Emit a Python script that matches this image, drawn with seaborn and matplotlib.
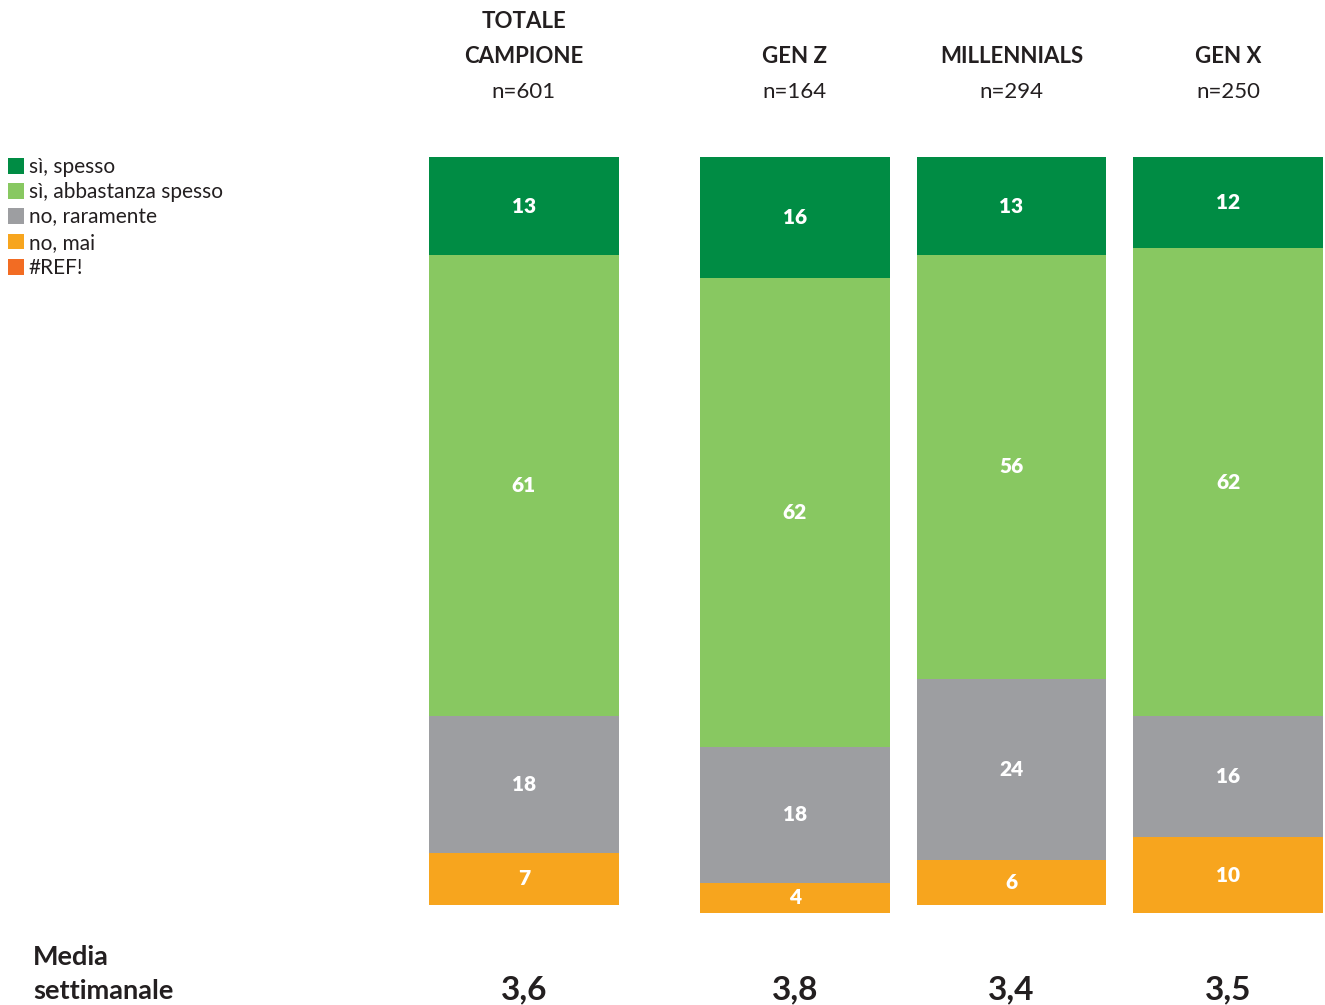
import matplotlib
matplotlib.use("Agg")
import matplotlib.pyplot as plt
from matplotlib.patches import Patch
import numpy as np
import pandas as pd
import seaborn as sns

# ---- data ----
groups = ["TOTALE\nCAMPIONE", "GEN Z", "MILLENNIALS", "GEN X"]
sample_sizes = ["n=601", "n=164", "n=294", "n=250"]
series_names = ["sì, spesso", "sì, abbastanza spesso", "no, raramente", "no, mai", "#REF!"]
si_spesso = [13, 16, 13, 12]
si_abbastanza = [61, 62, 56, 62]
no_raramente = [18, 18, 24, 16]
no_mai = [7, 4, 6, 10]
ref_err = [0, 0, 0, 0]
media_settimanale = ["3,6", "3,8", "3,4", "3,5"]

# ---- layout / style ----
colors = ["#008C44", "#88C861", "#9D9EA1", "#F7A51E", "#F26C23"]
positions = [0.0, 1.25, 2.25, 3.25]
bar_width = 0.876
W, H = 1325, 1005
TXT = "#231F20"

sns.set_theme(style="white")
plt.rcParams["font.family"] = ["Lato", "DejaVu Sans"]

fig = plt.figure(figsize=(W / 100, H / 100), dpi=100)
ax_left, ax_right = 429 / W, 1323 / W
ax_top, ax_bottom = 1 - 157 / H, 1 - 913 / H
ax = fig.add_axes([ax_left, ax_bottom, ax_right - ax_left, ax_top - ax_bottom])

series = [si_spesso, si_abbastanza, no_raramente, no_mai, ref_err]
cum = np.cumsum(np.array(series, dtype=float), axis=0)

# draw cumulative bars, largest first so smaller overlap on top
for i in range(len(series) - 1, -1, -1):
    df = pd.DataFrame({"x": positions, "y": cum[i]})
    sns.barplot(data=df, x="x", y="y", native_scale=True, width=bar_width,
                color=colors[i], saturation=1, errorbar=None, ax=ax,
                linewidth=0)

ax.set_ylim(100, 0)
ax.set_xlim(positions[0] - bar_width / 2, positions[-1] + bar_width / 2)
ax.axis("off")

# segment labels
for i in range(4):
    prev = cum[i - 1] if i > 0 else np.zeros(len(positions))
    for j, p in enumerate(positions):
        v = series[i][j]
        if v > 0:
            ax.text(p, (prev[j] + cum[i][j]) / 2, f"{v}", ha="center", va="center",
                    color="white", fontsize=15, fontweight="heavy")

# headers
def fig_x(p):
    lo = positions[0] - bar_width / 2
    hi = positions[-1] + bar_width / 2
    return ax_left + (p - lo) / (hi - lo) * (ax_right - ax_left)

for j, p in enumerate(positions):
    fx = fig_x(p)
    lines = groups[j].split("\n")
    if len(lines) == 2:
        fig.text(fx, 1 - 22 / H, lines[0], ha="center", va="center", fontsize=16,
                 fontweight="bold", color=TXT)
        fig.text(fx, 1 - 56 / H, lines[1], ha="center", va="center", fontsize=16,
                 fontweight="bold", color=TXT)
    else:
        fig.text(fx, 1 - 56 / H, lines[0], ha="center", va="center", fontsize=16,
                 fontweight="bold", color=TXT)
    fig.text(fx, 1 - 92 / H, sample_sizes[j], ha="center", va="center", fontsize=16,
             color=TXT)
    fig.text(fx, 1 - 990 / H, media_settimanale[j], ha="center", va="center",
             fontsize=24, fontweight="bold", color=TXT)

fig.text(33 / W, 1 - 957 / H, "Media", ha="left", va="center", fontsize=19.5,
         fontweight="bold", color=TXT)
fig.text(33 / W, 1 - 991 / H, "settimanale", ha="left", va="center", fontsize=19.5,
         fontweight="bold", color=TXT)

handles = [Patch(facecolor=c, edgecolor="none") for c in colors]
fig.legend(handles, series_names, loc="upper left", bbox_to_anchor=(4 / W, 1 - 153 / H),
           frameon=False, fontsize=15, handlelength=0.78, handleheight=0.78,
           handletextpad=0.2, labelspacing=0.25, borderaxespad=0, borderpad=0.2,
           labelcolor=TXT)

fig.savefig("out.png", dpi=100)
